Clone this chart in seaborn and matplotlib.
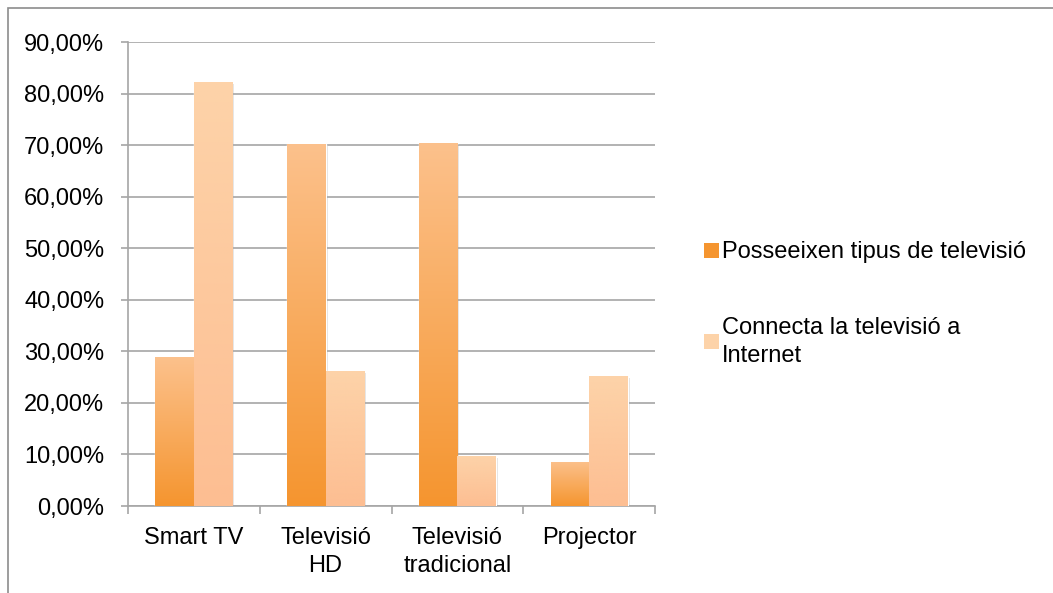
import numpy as np
import pandas as pd
import matplotlib
matplotlib.use("Agg")
import matplotlib.pyplot as plt
import matplotlib.patches as mpatches
import matplotlib.patheffects as pe
from matplotlib.ticker import FuncFormatter, MultipleLocator
import seaborn as sns

categories = ["Smart TV", "Televisió\nHD", "Televisió\ntradicional", "Projector"]
series_names = ["Posseeixen tipus de televisió", "Connecta la televisió a\nInternet"]
posseeixen = [28.9, 70.3, 70.5, 8.6]
connecta = [82.3, 26.2, 9.7, 25.2]

# gradient endpoints (bottom, top) for each series
grad_colors = {
    series_names[0]: ("#F5952F", "#FCC18C"),
    series_names[1]: ("#FDBE92", "#FDD3A9"),
}

df = pd.DataFrame({
    "categoria": categories * 2,
    "serie": [series_names[0]] * 4 + [series_names[1]] * 4,
    "valor": posseeixen + connecta,
})

sns.set_theme(style="white")
plt.rcParams["font.family"] = ["Liberation Sans", "DejaVu Sans"]
FS = 17

W, H = 1053, 593
fig = plt.figure(figsize=(W / 100, H / 100), dpi=100)
ax = fig.add_axes([128 / W, 1 - 506 / H, (655 - 128) / W, (506 - 42) / H])

palette = {s: grad_colors[s][0] for s in series_names}
sns.barplot(data=df, x="categoria", y="valor", hue="serie", order=categories,
            hue_order=series_names, palette=palette, width=0.585, gap=0,
            saturation=1, legend=False, ax=ax, zorder=3)

# replace flat fills with vertical gradients
grad = np.linspace(0, 1, 256).reshape(-1, 1)
for i, patch in enumerate(list(ax.patches)):
    s = series_names[i // len(categories)]
    c0 = np.array(matplotlib.colors.to_rgb(grad_colors[s][0]))
    c1 = np.array(matplotlib.colors.to_rgb(grad_colors[s][1]))
    img = c0 + (c1 - c0) * grad[..., None]
    x0, y0 = patch.get_x(), patch.get_y()
    w, h = patch.get_width(), patch.get_height()
    patch.set_path_effects([pe.SimplePatchShadow(offset=(1.5, -1.5), shadow_rgbFace="#000000",
                                                 alpha=0.12), pe.Normal()])
    im = ax.imshow(img, extent=(x0, x0 + w, y0, y0 + h), origin="lower",
                   aspect="auto", zorder=4, interpolation="bilinear")
    im.set_clip_path(patch)

ax.set_xlim(-0.5, len(categories) - 0.5)
ax.set_ylim(0, 90)

# axes, grid and ticks
ax.yaxis.set_major_locator(MultipleLocator(10))
ax.yaxis.set_major_formatter(FuncFormatter(lambda v, p: f"{v:.2f}%".replace(".", ",")))
ax.grid(axis="y", color="#A6A6A6", linewidth=1.2, zorder=1)
ax.grid(axis="x", visible=False)
for side in ["top", "right"]:
    ax.spines[side].set_visible(False)
for side in ["left", "bottom"]:
    ax.spines[side].set_color("#A6A6A6")
    ax.spines[side].set_linewidth(1.2)
ax.tick_params(axis="y", which="major", left=True, length=5, width=1.2, color="#A6A6A6",
               pad=12, labelsize=FS, labelcolor="#000000")
ax.set_xticks(np.arange(len(categories)))
ax.set_xticklabels(categories, linespacing=1.35)
ax.set_xticks(np.arange(len(categories) + 1) - 0.5, minor=True)
ax.tick_params(axis="x", which="major", bottom=False, pad=9, labelsize=FS,
               labelcolor="#000000")
ax.tick_params(axis="x", which="minor", bottom=True, length=6, width=1.2, color="#A6A6A6")
ax.set_xlabel("")
ax.set_ylabel("")

# legend
handles = [mpatches.Patch(facecolor=grad_colors[s][0] if i == 0 else grad_colors[s][1],
                          edgecolor="none") for i, s in enumerate(series_names)]
leg = fig.legend(handles, series_names, loc="upper left",
                 bbox_to_anchor=(695 / W, 1 - 232 / H),
                 frameon=False, fontsize=FS, handlelength=0.6, handleheight=0.6,
                 handletextpad=0.15, labelspacing=2.25, borderaxespad=0,
                 labelcolor="#000000")
for t in leg.get_texts():
    t.set_linespacing(1.35)

# outer chart border
fig.patches.append(mpatches.Rectangle((8 / W, -0.1), 1.2, 1 - 7.5 / H + 0.1,
                                      transform=fig.transFigure, fill=False,
                                      edgecolor="#8C8C8C", linewidth=1.2))

fig.savefig("out.png", dpi=100)
